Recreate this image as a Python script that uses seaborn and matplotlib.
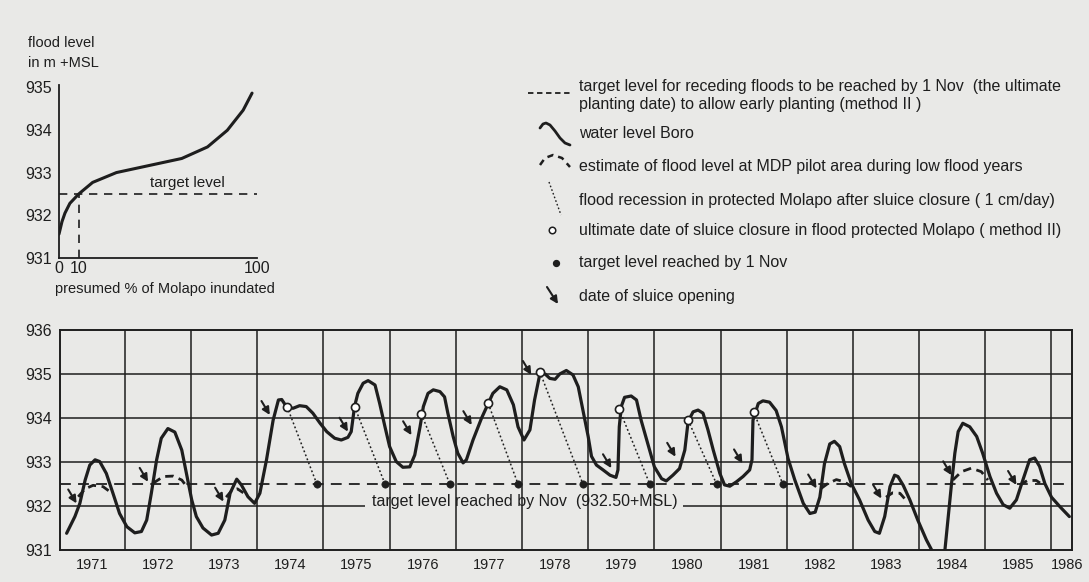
import matplotlib
matplotlib.use("Agg")
import matplotlib.pyplot as plt
import seaborn as sns
import pandas as pd

# ---------------- data ----------------
# inset: flood level vs presumed % of Molapo inundated
inset_pct = [0, 1.5, 3, 5.5, 10, 17, 29, 46, 62, 75, 85, 93, 97.5]
inset_level = [931.56, 931.85, 932.05, 932.28, 932.5, 932.77, 933.0, 933.17,
               933.33, 933.6, 933.99, 934.46, 934.86]
inset_target = 932.5
inset_target_pct = 10

# water level Boro (m +MSL)
boro_year = [1971.12, 1971.245, 1971.32, 1971.40, 1971.47, 1971.55, 1971.62, 1971.72,
             1971.82, 1971.92, 1972.03, 1972.15, 1972.25, 1972.33, 1972.40, 1972.48,
             1972.55, 1972.65, 1972.755, 1972.86, 1972.93, 1973.01, 1973.08, 1973.18,
             1973.31, 1973.41, 1973.51, 1973.59, 1973.69, 1973.76, 1973.86, 1973.96,
             1974.04, 1974.14, 1974.24, 1974.32, 1974.37, 1974.44, 1974.54, 1974.64,
             1974.74, 1974.84, 1974.95, 1975.05, 1975.17, 1975.27, 1975.37, 1975.42,
             1975.47, 1975.52, 1975.60, 1975.675, 1975.78, 1975.85, 1975.93, 1976.00,
             1976.10, 1976.20, 1976.305, 1976.38, 1976.46, 1976.51, 1976.58, 1976.66,
             1976.76, 1976.83, 1976.88, 1976.96, 1977.03, 1977.11, 1977.16, 1977.26,
             1977.39, 1977.49, 1977.56, 1977.665, 1977.77, 1977.87, 1977.94, 1978.03,
             1978.12, 1978.19, 1978.27, 1978.35, 1978.42, 1978.50, 1978.57, 1978.67,
             1978.77, 1978.85, 1978.92, 1979.00, 1979.05, 1979.125, 1979.225, 1979.33,
             1979.42, 1979.45, 1979.47, 1979.50, 1979.55, 1979.65, 1979.73, 1979.80,
             1979.90, 1980.00, 1980.11, 1980.18, 1980.28, 1980.38, 1980.46, 1980.51,
             1980.585, 1980.66, 1980.735, 1980.81, 1980.89, 1980.99, 1981.06, 1981.14,
             1981.24, 1981.34, 1981.44, 1981.475, 1981.49, 1981.57, 1981.64, 1981.74,
             1981.84, 1981.92, 1982.02, 1982.12, 1982.25, 1982.35, 1982.43, 1982.50,
             1982.57, 1982.65, 1982.72, 1982.80, 1982.87, 1982.975, 1983.10, 1983.23,
             1983.33, 1983.40, 1983.48, 1983.56, 1983.63, 1983.68, 1983.76, 1983.86,
             1983.98, 1984.11, 1984.19, 1984.29, 1984.39, 1984.44, 1984.49, 1984.54,
             1984.59, 1984.66, 1984.765, 1984.87, 1984.96, 1985.07, 1985.17, 1985.27,
             1985.37, 1985.47, 1985.57, 1985.67, 1985.745, 1985.82, 1985.90, 1986.00,
             1986.13, 1986.27]
boro_level = [931.38, 931.76, 932.06, 932.59, 932.93, 933.05, 933.01, 932.74,
              932.29, 931.83, 931.53, 931.39, 931.42, 931.68, 932.29, 933.05,
              933.54, 933.76, 933.68, 933.27, 932.74, 932.14, 931.76, 931.50,
              931.34, 931.38, 931.68, 932.29, 932.61, 932.48, 932.21, 932.06,
              932.29, 933.05, 933.95, 934.41, 934.42, 934.26, 934.22, 934.28,
              934.26, 934.11, 933.88, 933.69, 933.54, 933.50, 933.56, 933.69,
              934.26, 934.56, 934.79, 934.85, 934.75, 934.33, 933.80, 933.35,
              933.01, 932.88, 932.89, 933.16, 933.80, 934.26, 934.56, 934.64,
              934.60, 934.48, 934.11, 933.58, 933.20, 932.98, 933.05, 933.50,
              934.00, 934.33, 934.56, 934.71, 934.64, 934.30, 933.80, 933.50,
              933.73, 934.41, 935.00, 935.00, 934.90, 934.88, 935.00, 935.08,
              934.98, 934.71, 934.18, 933.58, 933.13, 932.93, 932.82, 932.70,
              932.65, 932.82, 933.80, 934.26, 934.47, 934.50, 934.41, 933.95,
              933.42, 932.89, 932.62, 932.57, 932.70, 932.85, 933.27, 933.92,
              934.14, 934.18, 934.11, 933.73, 933.27, 932.74, 932.48, 932.45,
              932.55, 932.67, 932.82, 933.05, 933.95, 934.33, 934.39, 934.36,
              934.17, 933.80, 933.08, 932.60, 932.06, 931.83, 931.86, 932.20,
              932.96, 933.41, 933.47, 933.35, 932.97, 932.51, 932.14, 931.68,
              931.42, 931.38, 931.76, 932.44, 932.70, 932.67, 932.47, 932.14,
              931.68, 931.23, 931.00, 930.60, 931.00, 931.76, 932.51, 933.20,
              933.69, 933.88, 933.80, 933.58, 933.20, 932.67, 932.29, 932.03,
              931.95, 932.14, 932.60, 933.05, 933.09, 932.90, 932.51, 932.20,
              931.98, 931.76]

# estimate of flood level at MDP pilot area during low flood years
est_season = ["1971"] * 5 + ["1972"] * 5 + ["1973"] * 4 + ["1982"] * 5 + \
             ["1983"] * 4 + ["1984"] * 5 + ["1985"] * 4
est_year = [1971.295, 1971.40, 1971.52, 1971.67, 1971.77,
            1972.43, 1972.58, 1972.73, 1972.86, 1972.93,
            1973.53, 1973.62, 1973.70, 1973.79,
            1982.52, 1982.62, 1982.75, 1982.87, 1982.975,
            1983.50, 1983.60, 1983.71, 1983.78,
            1984.51, 1984.64, 1984.79, 1984.94, 1985.04,
            1985.52, 1985.64, 1985.77, 1985.87]
est_level = [932.21, 932.39, 932.47, 932.44, 932.33,
             932.52, 932.67, 932.68, 932.59, 932.45,
             932.20, 932.36, 932.39, 932.30,
             932.40, 932.51, 932.60, 932.55, 932.44,
             932.20, 932.30, 932.29, 932.17,
             932.59, 932.78, 932.86, 932.78, 932.59,
             932.48, 932.58, 932.58, 932.48]

# ultimate date of sluice closure (open circles) and target reached by 1 Nov (dots)
closure_year = [1974.45, 1975.47, 1976.48, 1977.49, 1978.27, 1979.47, 1980.51, 1981.50]
closure_level = [934.26, 934.26, 934.09, 934.33, 935.05, 934.20, 933.95, 934.14]
target_year = [1974.90, 1975.93, 1976.91, 1977.94, 1978.92, 1979.93, 1980.94, 1981.94]
target_level = 932.5

# date of sluice opening (arrow tips)
opening_year = [1971.27, 1972.35, 1973.49, 1974.19, 1975.37, 1976.33, 1977.24, 1978.14,
                1979.35, 1980.32, 1981.33, 1982.45, 1983.43, 1984.49, 1985.47]
opening_level = [932.06, 932.55, 932.10, 934.07, 933.69, 933.61, 933.84, 934.98,
                 932.86, 933.12, 932.97, 932.40, 932.17, 932.70, 932.48]

year_labels = [str(y) for y in range(1971, 1987)]
year_label_pos = [y + 0.5 for y in range(1971, 1986)] + [1986.23]
year_bounds = list(range(1972, 1987))
level_ticks = [931, 932, 933, 934, 935, 936]
inset_level_ticks = [931, 932, 933, 934, 935]
inset_pct_ticks = [0, 10, 100]

legend_texts = [
    "target level for receding floods to be reached by 1 Nov  (the ultimate",
    "planting date) to allow early planting (method II )",
    "water level Boro",
    "estimate of flood level at MDP pilot area during low flood years",
    "flood recession in protected Molapo after sluice closure ( 1 cm/day)",
    "ultimate date of sluice closure in flood protected Molapo ( method II)",
    "target level reached by 1 Nov",
    "date of sluice opening",
]

# ---------------- style ----------------
bg = "#e9e9e7"
ink = "#1e1e1e"
sns.set_style("white", {"axes.facecolor": bg, "figure.facecolor": bg})
plt.rcParams["font.family"] = ["Liberation Sans", "DejaVu Sans"]
plt.rcParams["text.color"] = ink
plt.rcParams["xtick.color"] = ink
plt.rcParams["ytick.color"] = ink

W, H = 1089, 582
fig = plt.figure(figsize=(W / 100, H / 100), dpi=100)
fig.patch.set_facecolor(bg)

# ---------------- main chart ----------------
ax = fig.add_axes([60 / W, 1 - 550 / H, 1012 / W, 220 / H])
ax.set_facecolor(bg)
ax.set_xlim(1971.02, 1986.31)
ax.set_ylim(931, 936)
for s in ax.spines.values():
    s.set_color(ink)
    s.set_linewidth(1.4)
    s.set_zorder(5)

for yb in year_bounds:
    ax.axvline(yb, color=ink, lw=1.1, zorder=1)
for lv in level_ticks[2:-1]:
    ax.axhline(lv, color=ink, lw=1.1, zorder=1)
ax.hlines(932, 1971.02, 1975.63, color=ink, lw=1.1, zorder=1)
ax.hlines(932, 1980.43, 1986.31, color=ink, lw=1.1, zorder=1)
ax.axhline(target_level, color=ink, lw=1.3, ls=(0, (6, 4)), zorder=2)

sns.lineplot(x=boro_year, y=boro_level, ax=ax, color=ink, lw=2.3,
             sort=False, estimator=None, zorder=4,
             solid_joinstyle="round", solid_capstyle="round")
est_df = pd.DataFrame({"season": est_season, "year": est_year, "level": est_level})
for _, g in est_df.groupby("season"):
    sns.lineplot(data=g, x="year", y="level", ax=ax, color=ink, lw=2.0,
                 sort=False, estimator=None, linestyle=(0, (3, 2)), zorder=4)

for cx, cl, tx in zip(closure_year, closure_level, target_year):
    ax.plot([cx, tx], [cl, target_level], color=ink, lw=1.1, ls=(0, (1.2, 1.6)), zorder=3)

sns.scatterplot(x=target_year, y=[target_level] * len(target_year), ax=ax,
                color=ink, s=28, edgecolor=ink, zorder=6)
sns.scatterplot(x=closure_year, y=closure_level, ax=ax, facecolor="white",
                edgecolor=ink, linewidth=1.2, s=34, zorder=6)

for oy, ol in zip(opening_year, opening_level):
    ax.annotate("", xy=(oy, ol), xytext=(-6, 10), textcoords="offset points",
                arrowprops=dict(arrowstyle="-|>", color=ink, lw=1.5,
                                mutation_scale=11, shrinkA=0, shrinkB=0),
                zorder=7)

ax.text(1978.04, 932.1, "target level reached by Nov  (932.50+MSL)",
        ha="center", va="center", fontsize=11.5, color=ink)

ax.set_yticks(level_ticks)
ax.set_yticklabels([str(v) for v in level_ticks], fontsize=11.5)
ax.set_xticks(year_label_pos)
ax.set_xticklabels(year_labels, fontsize=10.5)
ax.tick_params(length=0, pad=6)
ax.set_xlabel("")
ax.set_ylabel("")

# ---------------- inset ----------------
ax2 = fig.add_axes([59 / W, 1 - 258 / H, 198 / W, 173 / H])
ax2.set_facecolor("none")
ax2.set_xlim(0, 100)
ax2.set_ylim(931, 935.05)
for side in ["top", "right"]:
    ax2.spines[side].set_visible(False)
for side in ["left", "bottom"]:
    ax2.spines[side].set_color(ink)
    ax2.spines[side].set_linewidth(1.3)
ax2.plot([0, 100], [inset_target, inset_target], color=ink, lw=1.2, ls=(0, (5, 4)))
ax2.plot([inset_target_pct, inset_target_pct], [931, inset_target], color=ink,
         lw=1.2, ls=(0, (5, 4)))
sns.lineplot(x=inset_pct, y=inset_level, ax=ax2, color=ink, lw=2.2,
             sort=False, estimator=None, solid_joinstyle="round")
ax2.text(65, 932.6, "target level", ha="center", va="bottom", fontsize=11)
ax2.set_yticks(inset_level_ticks)
ax2.set_yticklabels([str(v) for v in inset_level_ticks], fontsize=11.5)
ax2.set_xticks(inset_pct_ticks)
ax2.set_xticklabels([str(v) for v in inset_pct_ticks], fontsize=11.5)
ax2.tick_params(direction="in", length=5, width=1.2, pad=5)
ax2.tick_params(axis="x", pad=2)
ax2.set_xlabel("")
ax2.set_ylabel("")
fig.text(55 / W, 1 - 289 / H, "presumed % of Molapo inundated", fontsize=10.5,
         ha="left", va="center")
fig.text(28 / W, 1 - 43 / H, "flood level", fontsize=10.5, ha="left", va="center")
fig.text(28 / W, 1 - 63 / H, "in m +MSL", fontsize=10.5, ha="left", va="center")

# ---------------- legend (drawn in pixel space) ----------------
axL = fig.add_axes([0, 0, 1, 1])
axL.set_xlim(0, W)
axL.set_ylim(H, 0)
axL.axis("off")
axL.patch.set_visible(False)
axL.plot([528, 570], [93, 93], color=ink, lw=1.3, ls=(0, (3, 2)))
axL.plot([540, 543, 546, 550, 555, 560, 565, 570],
         [128, 124, 123, 125, 131, 138, 143, 145], color=ink, lw=2.0,
         solid_joinstyle="round")
axL.plot([540, 545, 553, 562, 570], [165, 158, 155, 158, 167], color=ink, lw=1.8,
         ls=(0, (2.5, 2)))
axL.plot([549, 561], [182, 215], color=ink, lw=1.0, ls=(0, (1.2, 1.6)))
axL.scatter([552], [230], s=22, facecolor="white", edgecolor=ink, linewidth=1.1)
axL.scatter([556], [263], s=18, color=ink)
axL.annotate("", xy=(558, 304), xytext=(547, 287), xycoords="data",
             arrowprops=dict(arrowstyle="-|>", color=ink, lw=1.5,
                             mutation_scale=11, shrinkA=0, shrinkB=0))
legend_y = [87, 104, 134, 166, 200, 230, 263, 297]
for t, yy in zip(legend_texts, legend_y):
    axL.text(579, yy, t, fontsize=11.5, ha="left", va="center", color=ink)

fig.savefig("out.png", dpi=100, facecolor=bg)
